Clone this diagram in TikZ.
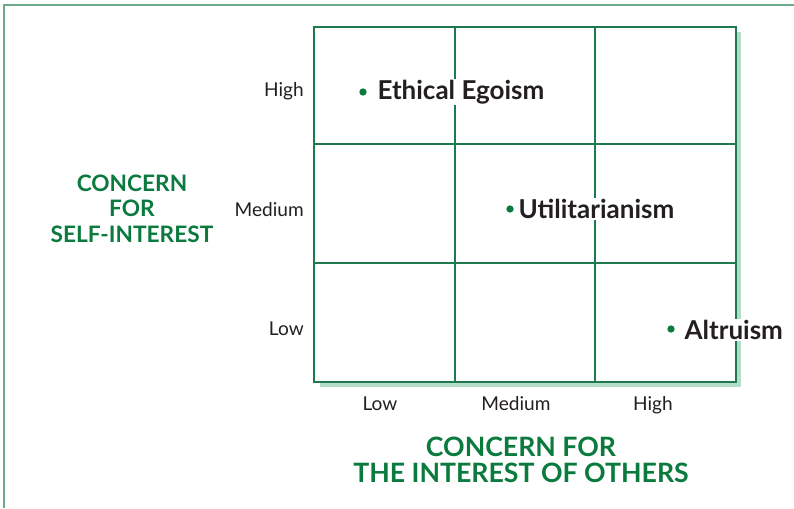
\documentclass[tikz,border=0pt]{standalone}
\usepackage{fontspec}
\setmainfont{Lato}
\definecolor{frame}{HTML}{6AAA88}
\definecolor{gridc}{HTML}{1E7A4E}
\definecolor{shadow}{HTML}{B5DCC8}
\definecolor{title}{HTML}{0B7A3E}
\definecolor{txt}{HTML}{231F20}
\definecolor{dot}{HTML}{0B7A3E}
\tikzset{
  axlab/.style={font=\fontsize{14.3}{16}\selectfont, text=txt, inner sep=0pt},
  ttl/.style={text=title, align=center, inner sep=0pt, anchor=base},
  item/.style={font=\bfseries\fontsize{19.5}{22}\selectfont, text=txt, fill=white, inner sep=1pt, anchor=west},
  pt/.style={circle, fill=dot, inner sep=0pt, minimum size=5.5pt}
}
\begin{document}
\begin{tikzpicture}[x=0.75pt,y=-0.75pt]
\useasboundingbox (0,0) rectangle (794,508);
% outer frame
\draw[frame, line width=2pt] (4,508) -- (4,5) -- (794,5);
% shadow
\fill[shadow] (736,32) rectangle (741,387);
\fill[shadow] (320,382) rectangle (741,387);
% grid
\draw[gridc, line width=1.3pt] (314,27) rectangle (736,382);
\draw[gridc, line width=1pt] (455,27) -- (455,382) (595,27) -- (595,382)
  (314,144) -- (736,144) (314,263) -- (736,263);
% axis labels
\node[axlab, anchor=base east] (yh) at (304,96) {High};
\node[axlab, anchor=base east] (ym) at (304,216) {Medium};
\node[axlab, anchor=base east] (yl) at (304,335) {Low};
\node[axlab, anchor=base] (xl) at (380,410) {Low};
\node[axlab, anchor=base] (xm) at (516,410) {Medium};
\node[axlab, anchor=base] (xh) at (653,410) {High};
% titles
\node[ttl, font=\bfseries\fontsize{17}{19}\selectfont] (t1) at (132,242) {CONCERN\\FOR\\SELF-INTEREST};
\node[ttl, font=\bfseries\fontsize{20}{19.5}\selectfont] (t2) at (521,482) {CONCERN FOR\\THE INTEREST OF OTHERS};
% items
\node[item] (ee) at (376,92) {Ethical Egoism};
\node[pt] (d1) at (363,92) {};
\node[item] (ut) at (517,209) {Utilitarianism};
\node[pt] (d2) at (510,209) {};
\node[item] (al) at (683,330) {Altruism};
\node[pt] (d3) at (671,329) {};
\end{tikzpicture}
\end{document}
